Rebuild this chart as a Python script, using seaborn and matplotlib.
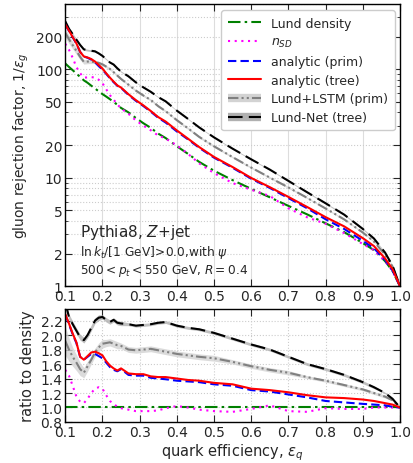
import numpy as np
import pandas as pd
import matplotlib
matplotlib.use("Agg")
import matplotlib.pyplot as plt
from matplotlib.lines import Line2D
from matplotlib.ticker import FixedLocator, NullFormatter, FuncFormatter
import seaborn as sns

# quark efficiency grid shared by all curves
eff_q = [0.10, 0.11, 0.12, 0.13, 0.14, 0.15, 0.16, 0.17, 0.18, 0.19,
         0.20, 0.21, 0.22, 0.23, 0.24, 0.25, 0.27, 0.29, 0.31, 0.33,
         0.35, 0.37, 0.40, 0.43, 0.46, 0.50, 0.55, 0.60, 0.65, 0.70,
         0.75, 0.80, 0.85, 0.90, 0.93, 0.96, 0.98, 1.00]

# gluon rejection (1/eps_g) of the Lund density reference
rej_density = [113, 105, 98, 91, 85, 79, 75, 70.5, 66.5, 62.5,
               59, 56, 53, 50, 47, 44, 40, 35.5, 31.8, 28.8,
               25.5, 23.2, 19.5, 16.6, 14.0, 11.6, 9.5, 7.9, 6.6, 5.5,
               4.6, 3.8, 3.15, 2.5, 2.15, 1.7, 1.38, 1.0]

# ratios of each tagger's rejection to the Lund density
ratio_nsd = [1.52, 1.44, 1.30, 1.15, 1.08, 1.06, 1.12, 1.20, 1.26, 1.28,
             1.26, 1.17, 1.09, 1.05, 1.01, 0.99, 0.97, 0.95, 0.95, 0.95,
             0.96, 0.99, 1.02, 1.00, 0.97, 0.95, 0.94, 0.98, 1.03, 0.95,
             0.94, 0.99, 0.98, 0.98, 1.00, 1.00, 1.00, 1.00]
ratio_prim = [2.28, 2.15, 2.01, 1.89, 1.70, 1.66, 1.70, 1.74, 1.74, 1.71,
              1.68, 1.62, 1.56, 1.52, 1.50, 1.53, 1.45, 1.44, 1.44, 1.41,
              1.40, 1.39, 1.37, 1.36, 1.35, 1.32, 1.30, 1.24, 1.22, 1.18,
              1.14, 1.09, 1.07, 1.05, 1.04, 1.03, 1.01, 1.00]
ratio_tree = [2.29, 2.16, 2.02, 1.90, 1.70, 1.66, 1.71, 1.76, 1.77, 1.75,
              1.72, 1.64, 1.58, 1.54, 1.51, 1.54, 1.47, 1.46, 1.46, 1.43,
              1.42, 1.42, 1.40, 1.38, 1.37, 1.34, 1.32, 1.26, 1.24, 1.21,
              1.17, 1.14, 1.13, 1.11, 1.09, 1.06, 1.04, 1.00]
ratio_lstm = [1.92, 1.80, 1.70, 1.62, 1.53, 1.48, 1.57, 1.66, 1.76, 1.83,
              1.88, 1.89, 1.90, 1.88, 1.86, 1.85, 1.80, 1.79, 1.80, 1.81,
              1.79, 1.77, 1.74, 1.72, 1.70, 1.68, 1.63, 1.57, 1.52, 1.48,
              1.42, 1.37, 1.31, 1.25, 1.20, 1.15, 1.10, 1.00]
err_lstm = [0.20, 0.16, 0.13, 0.11, 0.09, 0.07, 0.07, 0.06, 0.06, 0.06,
            0.06, 0.05, 0.05, 0.05, 0.05, 0.04, 0.04, 0.04, 0.04, 0.04,
            0.04, 0.04, 0.04, 0.04, 0.04, 0.04, 0.03, 0.03, 0.03, 0.03,
            0.02, 0.02, 0.02, 0.02, 0.02, 0.02, 0.01, 0.01]
ratio_lundnet = [2.45, 2.25, 2.15, 2.06, 1.97, 1.93, 2.00, 2.10, 2.20, 2.24,
                 2.25, 2.21, 2.18, 2.21, 2.17, 2.16, 2.15, 2.13, 2.14, 2.15,
                 2.17, 2.18, 2.13, 2.10, 2.08, 2.03, 1.95, 1.87, 1.80, 1.70,
                 1.60, 1.53, 1.45, 1.35, 1.28, 1.20, 1.12, 1.00]
err_lundnet = [0.04, 0.04, 0.04, 0.04, 0.04, 0.04, 0.04, 0.04, 0.04, 0.04,
               0.03, 0.03, 0.03, 0.03, 0.03, 0.03, 0.02, 0.02, 0.02, 0.02,
               0.02, 0.02, 0.02, 0.02, 0.02, 0.02, 0.02, 0.02, 0.02, 0.02,
               0.02, 0.02, 0.02, 0.02, 0.02, 0.01, 0.01, 0.01]

labels = ["Lund density", r"$n_{SD}$", "analytic (prim)", "analytic (tree)",
          "Lund+LSTM (prim)", "Lund-Net (tree)"]

sns.set_style("ticks")
plt.rcParams["font.family"] = ["DejaVu Sans"]
plt.rcParams["mathtext.fontset"] = "dejavusans"

x = np.array(eff_q)
dens = np.array(rej_density)
ratios = {
    "dens": np.ones_like(dens),
    "nsd": np.array(ratio_nsd),
    "prim": np.array(ratio_prim),
    "tree": np.array(ratio_tree),
    "lstm": np.array(ratio_lstm),
    "lundnet": np.array(ratio_lundnet),
}
bands = {"lstm": np.array(err_lstm), "lundnet": np.array(err_lundnet)}

styles = {
    "dens": dict(color="green", linestyle=(0, (6, 2, 1.2, 2))),
    "nsd": dict(color="magenta", linestyle=(0, (1, 2.2))),
    "prim": dict(color="blue", linestyle=(0, (4, 2))),
    "tree": dict(color="red", linestyle="-"),
    "lstm": dict(color="grey", linestyle=(0, (5, 1.5, 1, 1.5, 1, 1.5))),
    "lundnet": dict(color="black", linestyle=(0, (7, 3))),
}
band_colors = {"lstm": "#d3d3d3", "lundnet": "#b0b0b0"}
order = ["lstm", "lundnet", "dens", "nsd", "prim", "tree"]

fig = plt.figure(figsize=(4.13, 4.64), dpi=100)
ax1 = fig.add_axes([0.158, 0.381, 0.8105, 0.6084])
ax2 = fig.add_axes([0.158, 0.0884, 0.8105, 0.2435])

for key in order:
    r = ratios[key]
    rej = dens * r
    if key in bands:
        e = bands[key]
        ax1.fill_between(x, dens * (r - e), dens * (r + e),
                         color=band_colors[key], lw=0, alpha=0.8)
        ax2.fill_between(x, r - e, r + e, color=band_colors[key], lw=0, alpha=0.8)
    sns.lineplot(x=x, y=rej, ax=ax1, lw=1.5, **styles[key])
    sns.lineplot(x=x, y=r, ax=ax2, lw=1.5, **styles[key])

# top panel: rejection on a log axis
ax1.set_yscale("log")
ax1.set_xlim(0.1, 1.0)
ax1.set_ylim(1, 400)
ax1.yaxis.set_major_locator(FixedLocator([1, 2, 5, 10, 20, 50, 100, 200]))
ax1.yaxis.set_major_formatter(FuncFormatter(lambda v, p: f"{v:g}"))
ax1.yaxis.set_minor_formatter(NullFormatter())
ax1.set_xticks(np.arange(0.1, 1.01, 0.1))
ax1.set_xticklabels([f"{t:.1f}" for t in np.arange(0.1, 1.01, 0.1)])
ax1.grid(True, which="major", axis="x", color="#dddddd", lw=0.8, ls="-")
ax1.grid(True, which="both", axis="y", color="#cccccc", lw=0.8, ls=":")
ax1.set_ylabel(r"gluon rejection factor, $1/\epsilon_g$", fontsize=10)
ax1.set_xlabel("")

ax1.text(0.044, 0.178, r"Pythia8, $Z$+jet", transform=ax1.transAxes,
         fontsize=11, va="baseline")
ax1.text(0.044, 0.112, r"$\ln k_t/[1\ \mathrm{GeV}]\!>\!0.0$,with $\psi$",
         transform=ax1.transAxes, fontsize=8.7, va="baseline")
ax1.text(0.044, 0.048, r"$500 < p_t < 550$ GeV, $R = 0.4$",
         transform=ax1.transAxes, fontsize=8.7, va="baseline")

# legend with band + line handles for the ML taggers
handles = []
for key in ["dens", "nsd", "prim", "tree", "lstm", "lundnet"]:
    ln = Line2D([], [], lw=1.5, **styles[key])
    if key in bands:
        bd = Line2D([], [], lw=6, color=band_colors[key], solid_capstyle="butt")
        handles.append((bd, ln))
    else:
        handles.append(ln)
ax1.legend(handles, labels, loc="upper right", fontsize=9, handlelength=2.7,
           frameon=True, fancybox=True, edgecolor="#cccccc", framealpha=1,
           borderpad=0.5, labelspacing=0.45, borderaxespad=0.3,
           bbox_to_anchor=(0.995, 0.99))

# bottom panel: ratio to Lund density
ax2.set_xlim(0.1, 1.0)
ax2.set_ylim(0.8, 2.36)
ax2.set_yticks(np.arange(0.8, 2.21, 0.2))
ax2.set_yticklabels([f"{t:.1f}" for t in np.arange(0.8, 2.21, 0.2)])
ax2.set_xticks(np.arange(0.1, 1.01, 0.1))
ax2.set_xticklabels([f"{t:.1f}" for t in np.arange(0.1, 1.01, 0.1)])
ax2.grid(True, which="major", color="#cccccc", lw=0.8, ls=":")
ax2.set_ylabel("ratio to density", fontsize=10.5)
ax2.set_xlabel(r"quark efficiency, $\epsilon_q$", fontsize=10.5, labelpad=2)

for ax in (ax1, ax2):
    ax.tick_params(which="both", direction="in", top=True, right=True,
                   labelsize=10, pad=2)
    ax.tick_params(which="major", length=5)
    ax.tick_params(which="minor", length=2.5)
    for s in ax.spines.values():
        s.set_color("black")
        s.set_linewidth(1.0)

fig.savefig("out.png", dpi=100)
